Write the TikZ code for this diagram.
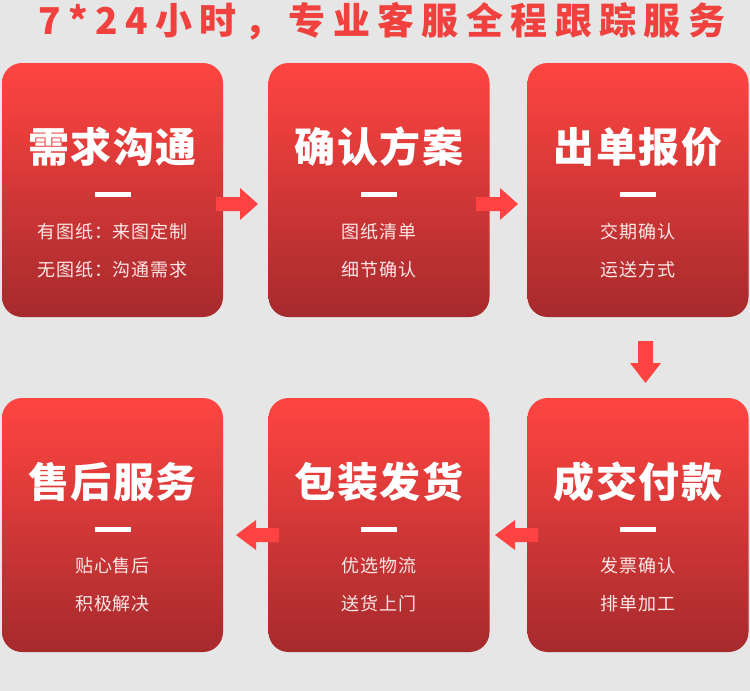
\documentclass[tikz,border=0pt]{standalone}
\usepackage{fontspec}
\newfontfamily\titlef[LetterSpace=20]{Noto Sans CJK SC}
\newfontfamily\headf[LetterSpace=4]{Noto Sans CJK SC}
\newfontfamily\subf[LetterSpace=4]{Noto Sans CJK SC}
\definecolor{bgc}{HTML}{E6E6E6}
\definecolor{boxtop}{HTML}{FF4541}
\definecolor{boxbot}{HTML}{A62A2D}
\definecolor{arrowc}{HTML}{FF4343}
\definecolor{titlec}{HTML}{F0413E}
\definecolor{subc}{HTML}{FBE6E6}
\tikzset{
  box/.style={rectangle, rounded corners=20pt, minimum width=221pt, minimum height=254pt, top color=boxtop, bottom color=boxbot, inner sep=0pt},
  head/.style={text=white, font=\headf\bfseries\fontsize{41}{45}\selectfont, inner sep=0pt},
  bar/.style={fill=white, minimum width=36pt, minimum height=5pt, inner sep=0pt},
  sub/.style={text=subc, font=\subf\fontsize{18}{20}\selectfont, inner sep=0pt},
  arr/.style={fill=arrowc},
}
\begin{document}
\begin{tikzpicture}[x=1pt,y=-1pt]
\useasboundingbox (0,0) rectangle (750,691);
\fill[bgc] (0,0) rectangle (750,691);
\node[text=titlec, font=\titlef\bfseries\fontsize{37}{40}\selectfont, inner sep=0pt] (title) at (382,21) {7*24小时，专业客服全程跟踪服务};
% boxes
\node[box] (b1) at (112.5,190) {};
\node[box] (b2) at (379,190) {};
\node[box] (b3) at (638,190) {};
\node[box] (b4) at (638,525) {};
\node[box] (b5) at (379,525) {};
\node[box] (b6) at (112.5,525) {};
% headings
\node[head] (h1) at (b1.center |- 0,147) {需求沟通};
\node[head] (h2) at (b2.center |- 0,147) {确认方案};
\node[head] (h3) at (b3.center |- 0,147) {出单报价};
\node[head] (h4) at (b4.center |- 0,482) {成交付款};
\node[head] (h5) at (b5.center |- 0,482) {包装发货};
\node[head] (h6) at (b6.center |- 0,482) {售后服务};
% bars
\node[bar] (d1) at (b1.center |- 0,194.5) {};
\node[bar] (d2) at (b2.center |- 0,194.5) {};
\node[bar] (d3) at (b3.center |- 0,194.5) {};
\node[bar] (d4) at (b4.center |- 0,529.5) {};
\node[bar] (d5) at (b5.center |- 0,529.5) {};
\node[bar] (d6) at (b6.center |- 0,529.5) {};
% sub texts
\node[sub] (s1a) at (b1.center |- 0,232) {有图纸：来图定制};
\node[sub] (s1b) at (b1.center |- 0,270) {无图纸：沟通需求};
\node[sub] (s2a) at (b2.center |- 0,232) {图纸清单};
\node[sub] (s2b) at (b2.center |- 0,270) {细节确认};
\node[sub] (s3a) at (b3.center |- 0,232) {交期确认};
\node[sub] (s3b) at (b3.center |- 0,270) {运送方式};
\node[sub] (s4a) at (b4.center |- 0,566) {发票确认};
\node[sub] (s4b) at (b4.center |- 0,604) {排单加工};
\node[sub] (s5a) at (b5.center |- 0,566) {优选物流};
\node[sub] (s5b) at (b5.center |- 0,604) {送货上门};
\node[sub] (s6a) at (b6.center |- 0,566) {贴心售后};
\node[sub] (s6b) at (b6.center |- 0,604) {积极解决};
% arrows
\fill[arr] (216,197) -- (240,197) -- (240,188) -- (258,204) -- (240,220) -- (240,211) -- (216,211) -- cycle;
\fill[arr] (476,197) -- (500,197) -- (500,188) -- (518,204) -- (500,220) -- (500,211) -- (476,211) -- cycle;
\fill[arr] (638,341) -- (653,341) -- (653,363) -- (661,363) -- (645.5,383) -- (630,363) -- (638,363) -- cycle;
\fill[arr] (538,528) -- (515,528) -- (515,520) -- (495,535) -- (515,550) -- (515,542) -- (538,542) -- cycle;
\fill[arr] (279,528) -- (256,528) -- (256,520) -- (236,535) -- (256,550) -- (256,542) -- (279,542) -- cycle;
\end{tikzpicture}
\end{document}
